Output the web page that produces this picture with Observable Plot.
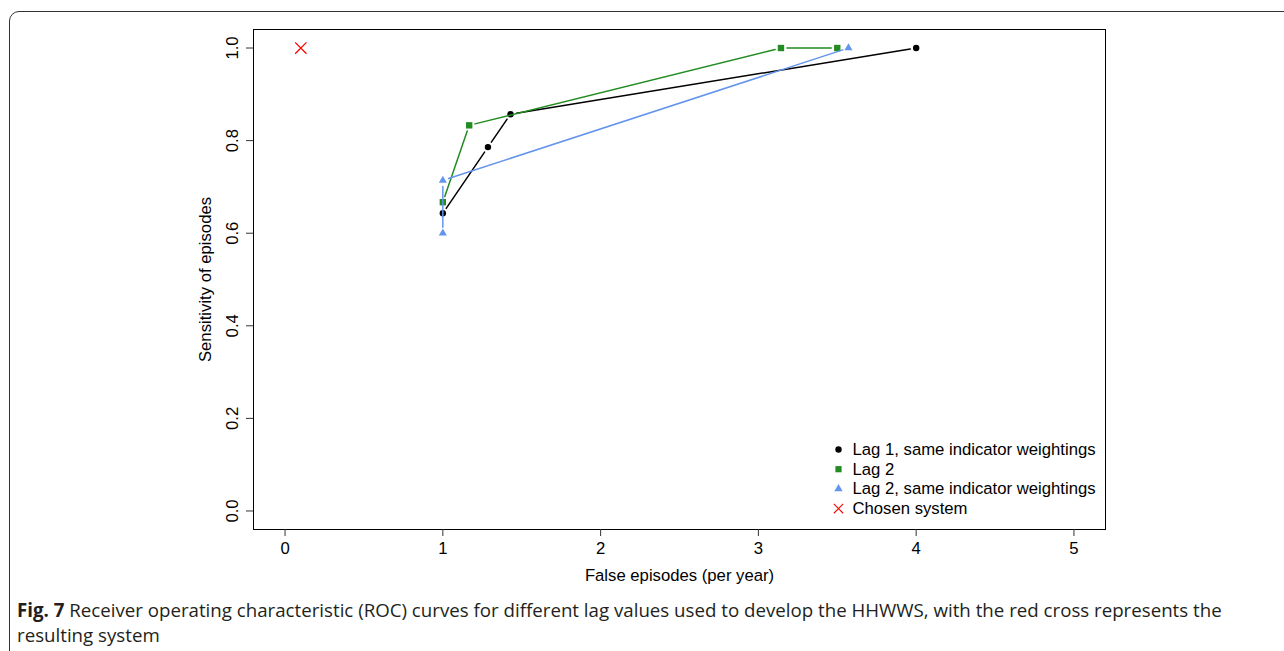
<!DOCTYPE html>
<html>
<head>
<meta charset="utf-8">
<script src="https://cdn.jsdelivr.net/npm/d3@7"></script>
<script src="https://cdn.jsdelivr.net/npm/@observablehq/plot@0.6"></script>
<style>
  html, body { margin: 0; padding: 0; background: #fff; overflow: hidden; width: 1284px; height: 651px; }
  #frame { position: absolute; left: 9px; top: 11px; width: 1300px; height: 700px; border: 1.5px solid #333; border-radius: 10px; box-sizing: border-box; }
  #chart { position: absolute; left: 0; top: 0; }
  #caption { position: absolute; left: 17px; top: 597px; font-family: "Open Sans", sans-serif; font-size: 18.7px; line-height: 25px; color: #231f20; white-space: nowrap; }
  #caption b { font-weight: 700; }
</style>
</head>
<body>
<div id="frame"></div>
<div id="chart"></div>
<div id="caption"><b>Fig. 7</b> Receiver operating characteristic (ROC) curves for different lag values used to develop the HHWWS, with the red cross represents the<br>resulting system</div>
<script>
// ---- data ----
const lag1X = [1, 1.286, 1.429, 4];
const lag1Y = [0.643, 0.786, 0.857, 1.0];
const lag2X = [1, 1.167, 3.143, 3.5];
const lag2Y = [0.667, 0.833, 1.0, 1.0];
const lag2sX = [1, 1, 3.571];
const lag2sY = [0.6, 0.714, 1.0];
const chosenX = [0.1];
const chosenY = [1.0];
const seriesNames = ["Lag 1, same indicator weightings", "Lag 2", "Lag 2, same indicator weightings", "Chosen system"];
const seriesColors = ["#000000", "#228B22", "#6495ED", "#FF0000"];
const seriesSymbols = ["circle", "square", "triangle", "times"];
const xTicks = [0, 1, 2, 3, 4, 5];
const yTicks = [0, 0.2, 0.4, 0.6, 0.8, 1.0];
const xLabel = "False episodes (per year)";
const yLabel = "Sensitivity of episodes";

// ---- build tables ----
const series = [
  {name: seriesNames[0], xs: lag1X, ys: lag1Y, color: seriesColors[0], symbol: seriesSymbols[0], r: 3.2},
  {name: seriesNames[1], xs: lag2X, ys: lag2Y, color: seriesColors[1], symbol: seriesSymbols[1], r: 3.6},
  {name: seriesNames[2], xs: lag2sX, ys: lag2sY, color: seriesColors[2], symbol: seriesSymbols[2], r: 3.0}
];
const font = "'Liberation Sans', Arial, Helvetica, sans-serif";
const fs = 16.7;

const marks = [];
for (const s of series) {
  const pts = s.xs.map((x, i) => ({x, y: s.ys[i]}));
  const segs = pts.slice(1).map((p, i) => ({x1: pts[i].x, y1: pts[i].y, x2: p.x, y2: p.y}));
  marks.push(Plot.arrow(segs, {x1: "x1", y1: "y1", x2: "x2", y2: "y2", stroke: s.color, strokeWidth: 1.5, headLength: 0, insetStart: 6, insetEnd: 6}));
  marks.push(Plot.dot(pts, {x: "x", y: "y", symbol: () => s.symbol, fill: s.color, r: s.r}));
}
const chosen = chosenX.map((x, i) => ({x, y: chosenY[i]}));
marks.push(Plot.dot(chosen, {x: "x", y: "y", symbol: () => "times", stroke: seriesColors[3], strokeWidth: 1.3, r: 5.2}));

// legend rows
const legendR = [3.2, 3.5, 3.1, 4.3];
seriesNames.forEach((name, i) => {
  const dy = -80 + i * 19.7;
  const isTimes = seriesSymbols[i] === "times";
  marks.push(Plot.dot([name], {frameAnchor: "bottom-right", dx: -267, dy, symbol: () => seriesSymbols[i],
    r: legendR[i], ...(isTimes ? {stroke: seriesColors[i], strokeWidth: 1.1, fill: "none"} : {fill: seriesColors[i]})}));
  marks.push(Plot.text([name], {frameAnchor: "bottom-right", dx: -253, dy, text: d => d, textAnchor: "start", lineAnchor: "middle", fontSize: fs, fill: "#000"}));
});

const chart = Plot.plot({
  width: 1284,
  height: 592,
  marginLeft: 253,
  marginRight: 179,
  marginTop: 29,
  marginBottom: 63,
  style: {fontFamily: font, fontSize: fs + "px", background: "transparent", color: "#000"},
  x: {domain: [-0.2, 5.2]},
  y: {domain: [-0.04, 1.04]},
  marks: [
    Plot.frame({stroke: "#000", strokeWidth: 1}),
    Plot.axisX({ticks: xTicks, tickSize: 7, tickFormat: () => "", label: null, stroke: "#333"}),
    Plot.axisY({ticks: yTicks, tickSize: 7, tickFormat: () => "", label: null, stroke: "#333"}),
    Plot.text(xTicks, {x: d => d, frameAnchor: "bottom", dy: 19, text: d => String(d), lineAnchor: "middle", fontSize: fs}),
    Plot.text(yTicks, {y: d => d, frameAnchor: "left", dx: -21, text: d3.format(".1f"), rotate: -90, textAnchor: "middle", lineAnchor: "middle", fontSize: fs}),
    Plot.text([xLabel], {frameAnchor: "bottom", dy: 46, text: d => d, lineAnchor: "middle", fontSize: fs}),
    Plot.text([yLabel], {frameAnchor: "left", dx: -48, text: d => d, rotate: -90, textAnchor: "middle", lineAnchor: "middle", fontSize: fs}),
    ...marks
  ]
});
document.getElementById("chart").appendChild(chart);
</script>
</body>
</html>
